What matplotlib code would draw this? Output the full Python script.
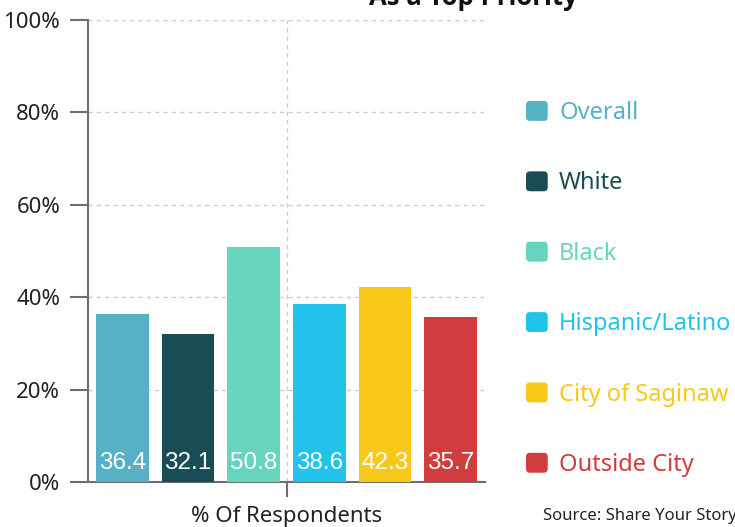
import matplotlib
matplotlib.use("Agg")
import matplotlib.pyplot as plt
from matplotlib.patches import FancyBboxPatch
from matplotlib.legend_handler import HandlerPatch

# Share of respondents naming this issue as a top priority, by group
groups = ["Overall", "White", "Black", "Hispanic/Latino", "City of Saginaw", "Outside City"]
values = [36.4, 32.1, 50.8, 38.6, 42.3, 35.7]
colors = ["#56B1C5", "#194D55", "#67D4BE", "#22C3EA", "#F7C918", "#D13C3E"]
yticks = [0, 20, 40, 60, 80, 100]
ytick_labels = [f"{t}%" for t in yticks]

title = "As a Top Priority"
xlabel = "% Of Respondents"
source = "Source: Share Your Story"

plt.rcParams["font.family"] = ["Noto Sans", "DejaVu Sans"]

W, H = 735, 527
fig = plt.figure(figsize=(W / 100, H / 100), dpi=100)
ax = fig.add_axes([88 / W, 1 - 482 / H, (485 - 88) / W, (482 - 20) / H])

xs = list(range(len(groups)))
bars = ax.bar(xs, values, width=0.80, color=colors, zorder=3)
for b, g in zip(bars, groups):
    b.set_label(g)

for x, v in zip(xs, values):
    ax.text(x, 4.1, f"{v}", ha="center", va="center", color="white",
            fontsize=17.5, family=["Liberation Sans", "DejaVu Sans"], zorder=4)

ax.set_xlim(-0.523, 5.523)
ax.set_ylim(0, 100)
ax.set_yticks(yticks)
ax.set_yticklabels(ytick_labels, fontsize=16, color="#222222")
ax.set_xticks([2.5])
ax.set_xticklabels([""])
ax.tick_params(axis="y", length=13, width=1.5, color="#6e6e6e", pad=7)
ax.tick_params(axis="x", length=11, width=1.5, color="#6e6e6e", pad=0)

for s in ["top", "right"]:
    ax.spines[s].set_visible(False)
for s in ["left", "bottom"]:
    ax.spines[s].set_color("#6e6e6e")
    ax.spines[s].set_linewidth(1.5)

ax.grid(axis="y", color="#cccccc", linestyle=(0, (3, 3)), linewidth=1, zorder=0)
ax.axvline(2.5, color="#cccccc", linestyle=(0, (3, 3)), linewidth=1, zorder=0)

ax.set_xlabel(xlabel, fontsize=16, color="#222222", labelpad=6)


def rounded_handle(legend, orig_handle, xdescent, ydescent, width, height, fontsize):
    return FancyBboxPatch((-xdescent, -ydescent), width, height,
                          boxstyle=f"round,pad=0,rounding_size={width * 0.18}",
                          facecolor=orig_handle.get_facecolor(), edgecolor="none")


leg = fig.legend(handles=list(bars), labels=groups, loc="upper left",
                 bbox_to_anchor=(526 / W, 1 - 101 / H), frameon=False,
                 fontsize=17, handlelength=0.92, handleheight=0.92,
                 handletextpad=0.48, labelspacing=1.96, borderpad=0,
                 borderaxespad=0, labelcolor=colors,
                 handler_map={plt.Rectangle: HandlerPatch(patch_func=rounded_handle)})

fig.text(473 / W, 1 - 5 / H, title, ha="center", va="baseline",
         fontsize=18.5, fontweight="bold", color="#111111",
         family=["Open Sans", "DejaVu Sans"])
fig.text(543 / W, 1 - 520 / H, source, ha="left", va="baseline",
         fontsize=12, color="#222222")

fig.savefig("out.png", dpi=100)
